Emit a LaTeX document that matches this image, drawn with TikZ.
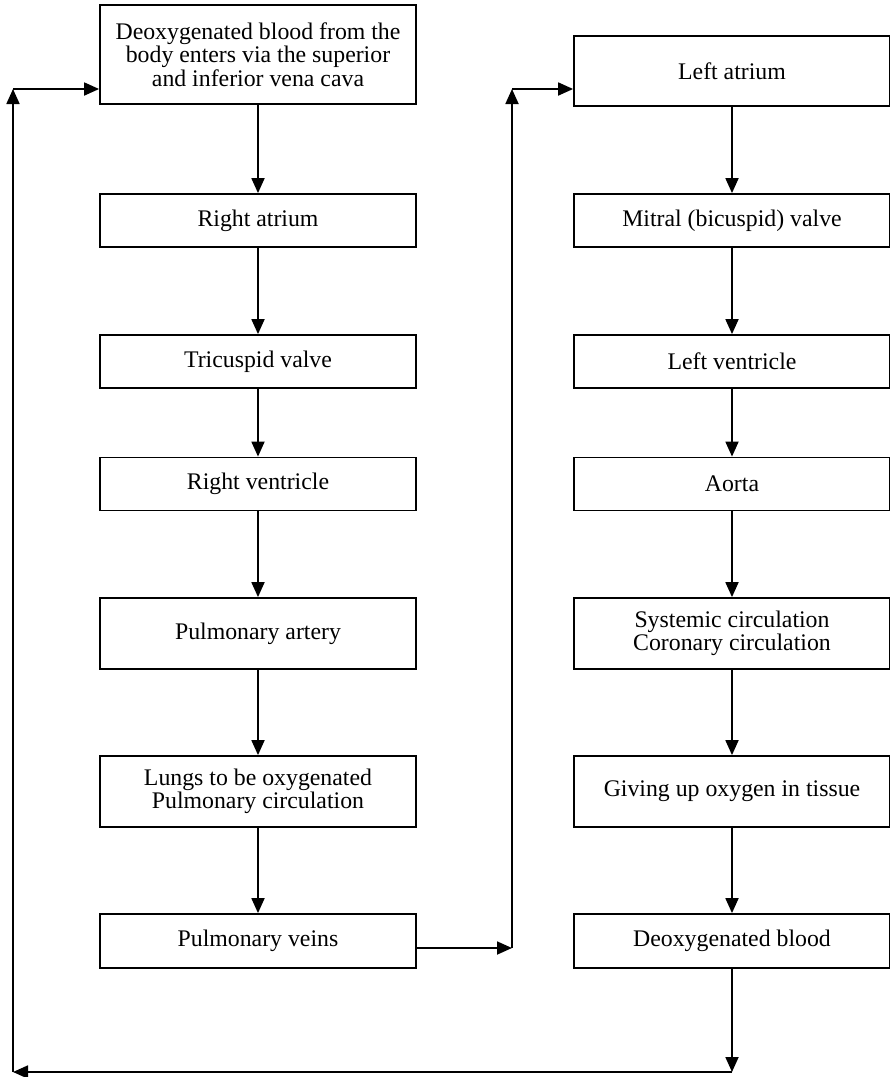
\documentclass[tikz,border=0pt]{standalone}
\usepackage{fontspec}
\setmainfont{Liberation Serif}
\usetikzlibrary{arrows.meta}

\begin{document}
\begin{tikzpicture}[x=1pt, y=-1pt, line width=1.8pt,
    stage/.style={draw, rectangle, minimum width=316pt, inner sep=0pt, align=center,
        font=\fontsize{23.8}{23.5}\selectfont},
    >={Triangle[length=15pt, width=13pt]}]
    \useasboundingbox (0,0) rectangle (890,1077);

    % left column
    \node[stage, minimum height=99pt] (a1) at (258,54.5) {Deoxygenated blood from the\\ body enters via the superior\\ and inferior vena cava};
    \node[stage, minimum height=53pt] (a2) at (258,220.5) {Right atrium};
    \node[stage, minimum height=53pt] (a3) at (258,361.5) {Tricuspid valve};
    \node[stage, minimum height=53pt] (a4) at (258,484) {Right ventricle};
    \node[stage, minimum height=71pt] (a5) at (258,633.5) {Pulmonary artery};
    \node[stage, minimum height=71pt] (a6) at (258,791.5) {Lungs to be oxygenated\\ Pulmonary circulation};
    \node[stage, minimum height=54pt] (a7) at (258,941) {Pulmonary veins};
    \foreach \x in {1,...,6}
        \draw[->] (a\x) -- (a\the\numexpr\x+1\relax);

    % right column
    \node[stage, minimum height=70pt] (b1) at (732,71) {Left atrium};
    \node[stage, minimum height=53pt] (b2) at (732,220.5) {Mitral (bicuspid) valve};
    \node[stage, minimum height=53pt] (b3) at (732,361.5) {Left ventricle};
    \node[stage, minimum height=53pt] (b4) at (732,484) {Aorta};
    \node[stage, minimum height=71pt] (b5) at (732,633.5) {Systemic circulation\\ Coronary circulation};
    \node[stage, minimum height=71pt] (b6) at (732,791.5) {Giving up oxygen in tissue};
    \node[stage, minimum height=54pt] (b7) at (732,941) {Deoxygenated blood};
    \foreach \x in {1,...,6}
        \draw[->] (b\x) -- (b\the\numexpr\x+1\relax);

    % return loops
    \coordinate (ltop) at (13,89);
    \coordinate (lbot) at (13,1072);
    \coordinate (rbot) at (732,1072);
    \coordinate (mtop) at (512,89);
    \coordinate (mbot) at (512,948);
    \draw[->] (mbot -| a7.east) -- (mbot);
    \draw[->] (mbot) -- (mtop);
    \draw[->] (mtop) -- (mtop -| b1.west);
    \draw[->] (b7) -- (rbot);
    \draw[->] (rbot) -- (lbot);
    \draw[->] (lbot) -- (ltop);
    \draw[->] (ltop) -- (ltop -| a1.west);
\end{tikzpicture}
\end{document}
